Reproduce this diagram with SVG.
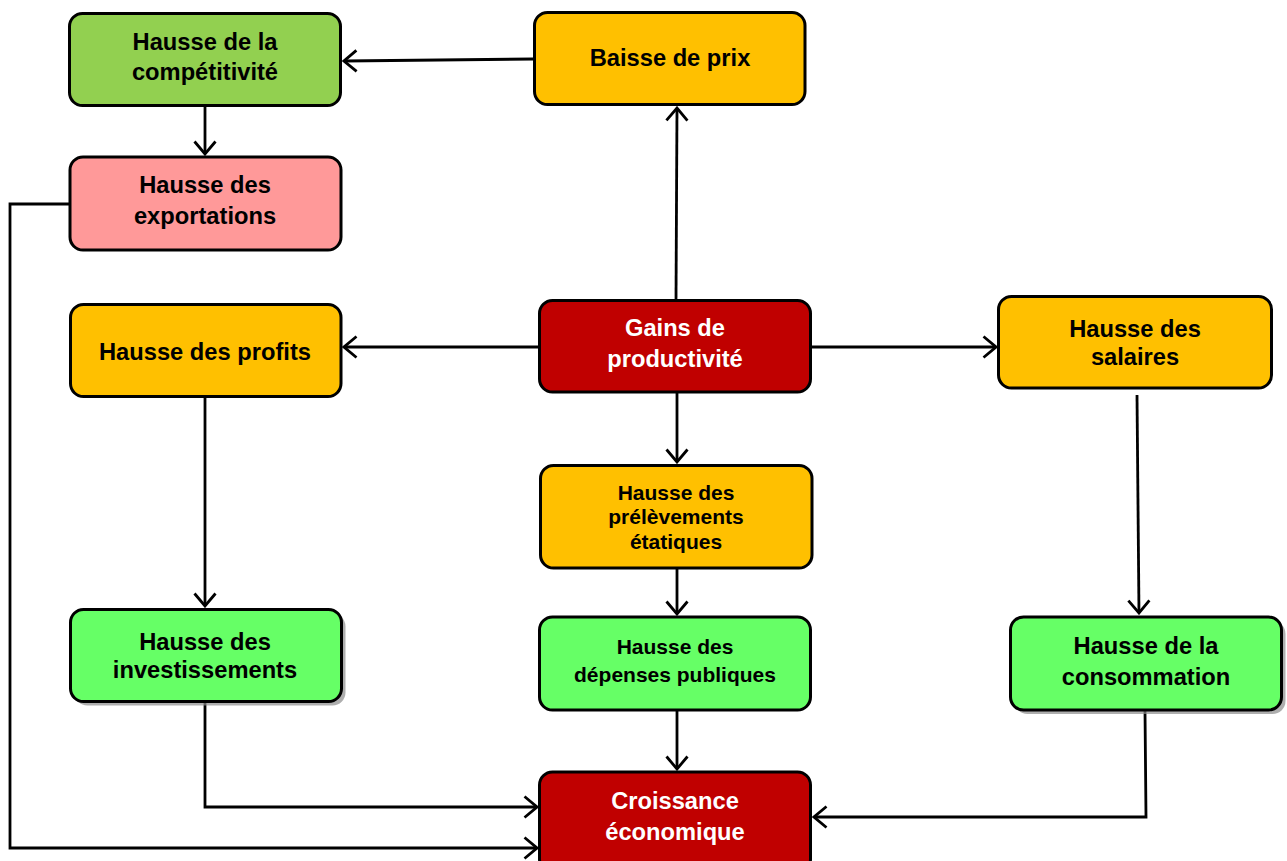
<svg xmlns="http://www.w3.org/2000/svg" width="1287" height="861" viewBox="0 0 1287 861">
<style>
.box{stroke:#000;stroke-width:3}
.shadow{fill:#8c8c8c;opacity:0.7}
.t{font-family:"Liberation Sans",Arial,sans-serif;font-weight:bold;font-size:23.7px;text-anchor:middle;fill:#000}
.s{font-size:21px}
.w{fill:#fff}
.c{fill:none;stroke:#000;stroke-width:2.8}
</style>
<defs>
<marker id="arr" viewBox="0 0 16 24" markerWidth="16" markerHeight="24" refX="14" refY="12" orient="auto" markerUnits="userSpaceOnUse">
<path d="M1.5,1.5 L14,12 L1.5,22.5" fill="none" stroke="#000" stroke-width="2.8"/>
</marker>
</defs>
<rect width="1287" height="861" fill="#fff"/>
<g id="connectors" class="c" marker-end="url(#arr)">
<path d="M533,59 L344,61"/>
<path d="M205,106 V154"/>
<path d="M69,204 H10 V848 H537"/>
<path d="M676,299 L677,108"/>
<path d="M538,347 H344"/>
<path d="M812,347 H996"/>
<path d="M677,393 V462"/>
<path d="M205,398 V606"/>
<path d="M205,703 V807 H537"/>
<path d="M677,569 V614"/>
<path d="M677,711 V769"/>
<path d="M1137,395 L1139,613"/>
<path d="M1145,711 L1146,817 H814"/>
</g>
<g id="competitivite">
<rect class="box" x="69.5" y="13.5" width="271" height="92" rx="13" fill="#92D050"/>
<text class="t" x="205" y="50">Hausse de la</text>
<text class="t" x="205" y="80">compétitivité</text>
</g>
<g id="baisse-prix">
<rect class="box" x="534.5" y="12.5" width="270.5" height="92" rx="13" fill="#FFC000"/>
<text class="t" x="670" y="66">Baisse de prix</text>
</g>
<g id="exportations">
<rect class="box" x="70" y="157" width="271" height="93" rx="13" fill="#FF9999"/>
<text class="t" x="205" y="193">Hausse des</text>
<text class="t" x="205" y="224">exportations</text>
</g>
<g id="profits">
<rect class="box" x="70.5" y="304.5" width="270.5" height="92" rx="13" fill="#FFC000"/>
<text class="t" x="205" y="359.5">Hausse des profits</text>
</g>
<g id="gains">
<rect class="box" x="539.5" y="300.5" width="271" height="91.5" rx="13" fill="#C00000"/>
<text class="t w" x="675" y="335.5">Gains de</text>
<text class="t w" x="675" y="366.5">productivité</text>
</g>
<g id="salaires">
<rect class="box" x="998.5" y="296.5" width="273" height="91.5" rx="13" fill="#FFC000"/>
<text class="t" x="1135" y="337">Hausse des</text>
<text class="t" x="1135" y="365">salaires</text>
</g>
<g id="prelevements">
<rect class="box" x="540.5" y="465.5" width="271.5" height="102.5" rx="13" fill="#FFC000"/>
<text class="t s" x="676" y="500">Hausse des</text>
<text class="t s" x="676" y="524">prélèvements</text>
<text class="t s" x="676" y="548.5">étatiques</text>
</g>
<g id="investissements">
<rect class="shadow" x="74.5" y="613.5" width="271" height="92" rx="13"/>
<rect class="box" x="70.5" y="609.5" width="271" height="92" rx="13" fill="#66FF66"/>
<text class="t" x="205" y="650">Hausse des</text>
<text class="t" x="205" y="678">investissements</text>
</g>
<g id="depenses">
<rect class="box" x="539.5" y="617" width="271" height="93" rx="13" fill="#66FF66"/>
<text class="t s" x="675" y="654">Hausse des</text>
<text class="t s" x="675" y="682">dépenses publiques</text>
</g>
<g id="consommation">
<rect class="shadow" x="1014.5" y="621" width="271" height="93" rx="13"/>
<rect class="box" x="1010.5" y="617" width="271" height="93" rx="13" fill="#66FF66"/>
<text class="t" x="1146" y="653.5">Hausse de la</text>
<text class="t" x="1146" y="685">consommation</text>
</g>
<g id="croissance">
<rect class="box" x="539.5" y="772" width="271" height="100" rx="13" fill="#C00000"/>
<text class="t w" x="675" y="808.5">Croissance</text>
<text class="t w" x="675" y="839.5">économique</text>
</g>
</svg>
